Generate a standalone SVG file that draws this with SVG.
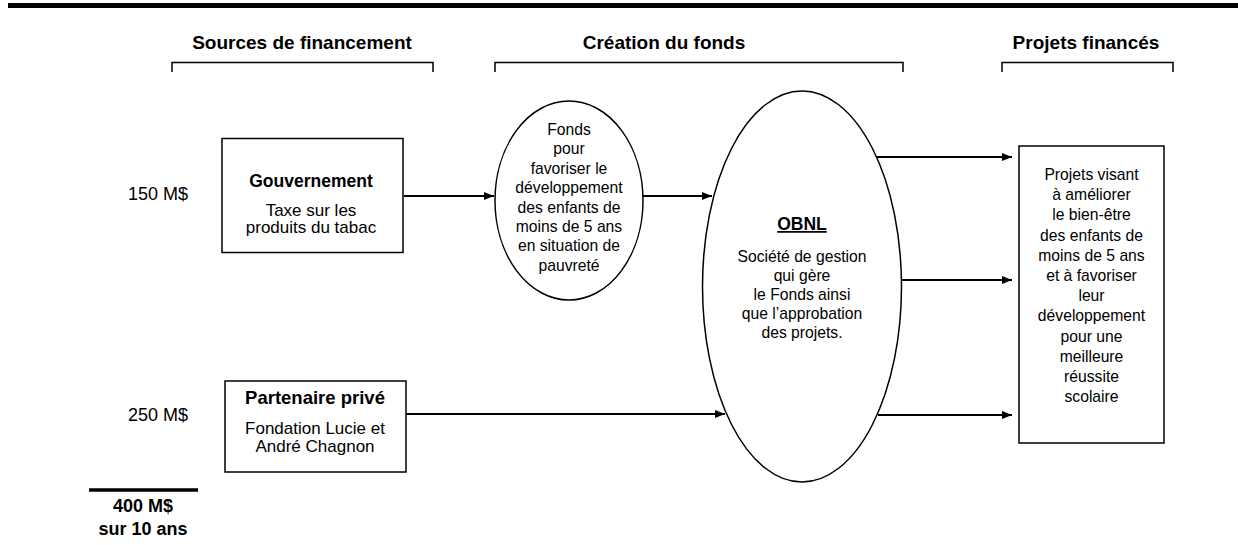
<svg xmlns="http://www.w3.org/2000/svg" width="1238" height="545" viewBox="0 0 1238 545">
<defs>
<marker id="ah" markerWidth="10" markerHeight="8" refX="10" refY="4" orient="auto" markerUnits="userSpaceOnUse">
<path d="M0,0 L10,4 L0,8 Z" fill="#000"/>
</marker>
<style>
text{font-family:"Liberation Sans",Arial,sans-serif;fill:#000;text-anchor:middle}
.h{font-size:19px;font-weight:bold}
.t{font-size:15.7px}
.b{font-size:17px}
.amt{font-size:18px}
.tot{font-size:18px;font-weight:bold}
.bb{font-size:17.5px;font-weight:bold}
.shape{fill:#fff;stroke:#000;stroke-width:1.5}
.br{fill:none;stroke:#000;stroke-width:1.5}
.c{fill:none;stroke:#000;stroke-width:1.8;marker-end:url(#ah)}
</style>
</defs>
<rect x="8" y="3" width="1230" height="5" fill="#000"/>
<g id="headers">
<text class="h" x="302" y="49">Sources de financement</text>
<text class="h" x="664" y="49">Création du fonds</text>
<text class="h" x="1086" y="49">Projets financés</text>
<path class="br" d="M172,72 V62.5 H433 V72"/>
<path class="br" d="M495,72 V62.5 H903 V72"/>
<path class="br" d="M1002,72 V62.5 H1173 V72"/>
</g>
<g id="amounts">
<text class="amt" x="158" y="200">150 M$</text>
<text class="amt" x="158" y="421">250 M$</text>
<line x1="89" y1="490" x2="198" y2="490" stroke="#000" stroke-width="3.5"/>
<text class="tot" x="143" y="512">400 M$</text>
<text class="tot" x="143" y="535">sur 10 ans</text>
</g>
<g id="connectors">
<line class="c" x1="404" y1="196" x2="494" y2="196"/>
<line class="c" x1="643" y1="196" x2="712" y2="196"/>
<line class="c" x1="406" y1="414" x2="725" y2="414"/>
<line class="c" x1="876" y1="157" x2="1012" y2="157"/>
<line class="c" x1="901" y1="280" x2="1012" y2="280"/>
<line class="c" x1="878" y1="415" x2="1012" y2="415"/>
</g>
<g id="gouvernement">
<rect class="shape" x="222" y="138.5" width="181" height="114"/>
<text class="bb" x="311" y="187">Gouvernement</text>
<text class="b" x="311" y="215.5">Taxe sur les</text>
<text class="b" x="311" y="232.5">produits du tabac</text>
</g>
<g id="partenaire">
<rect class="shape" x="225" y="381" width="181" height="91"/>
<text class="bb" x="315" y="404" style="font-size:18.5px">Partenaire privé</text>
<text class="b" x="315" y="434">Fondation Lucie et</text>
<text class="b" x="315" y="451.5">André Chagnon</text>
</g>
<g id="fonds">
<ellipse class="shape" cx="569" cy="200.5" rx="74" ry="99.5"/>
<text class="t" x="569" y="135">Fonds</text>
<text class="t" x="569" y="154.4">pour</text>
<text class="t" x="569" y="173.8">favoriser le</text>
<text class="t" x="569" y="193.2">développement</text>
<text class="t" x="569" y="212.6">des enfants de</text>
<text class="t" x="569" y="232">moins de 5 ans</text>
<text class="t" x="569" y="251.4">en situation de</text>
<text class="t" x="569" y="270.8">pauvreté</text>
</g>
<g id="obnl">
<ellipse class="shape" cx="802" cy="286.5" rx="99.5" ry="195.5"/>
<text class="bb" x="802" y="230" text-decoration="underline">OBNL</text>
<text class="t" x="802" y="262">Société de gestion</text>
<text class="t" x="802" y="281">qui gère</text>
<text class="t" x="802" y="300">le Fonds ainsi</text>
<text class="t" x="802" y="319">que l’approbation</text>
<text class="t" x="802" y="338">des projets.</text>
</g>
<g id="projets">
<rect class="shape" x="1019" y="146" width="145" height="297"/>
<text class="t" x="1091.5" y="180">Projets visant</text>
<text class="t" x="1091.5" y="200.2">à améliorer</text>
<text class="t" x="1091.5" y="220.4">le bien-être</text>
<text class="t" x="1091.5" y="240.6">des enfants de</text>
<text class="t" x="1091.5" y="260.8">moins de 5 ans</text>
<text class="t" x="1091.5" y="281">et à favoriser</text>
<text class="t" x="1091.5" y="301.2">leur</text>
<text class="t" x="1091.5" y="321.4">développement</text>
<text class="t" x="1091.5" y="341.6">pour une</text>
<text class="t" x="1091.5" y="361.8">meilleure</text>
<text class="t" x="1091.5" y="382">réussite</text>
<text class="t" x="1091.5" y="402.2">scolaire</text>
</g>
</svg>
